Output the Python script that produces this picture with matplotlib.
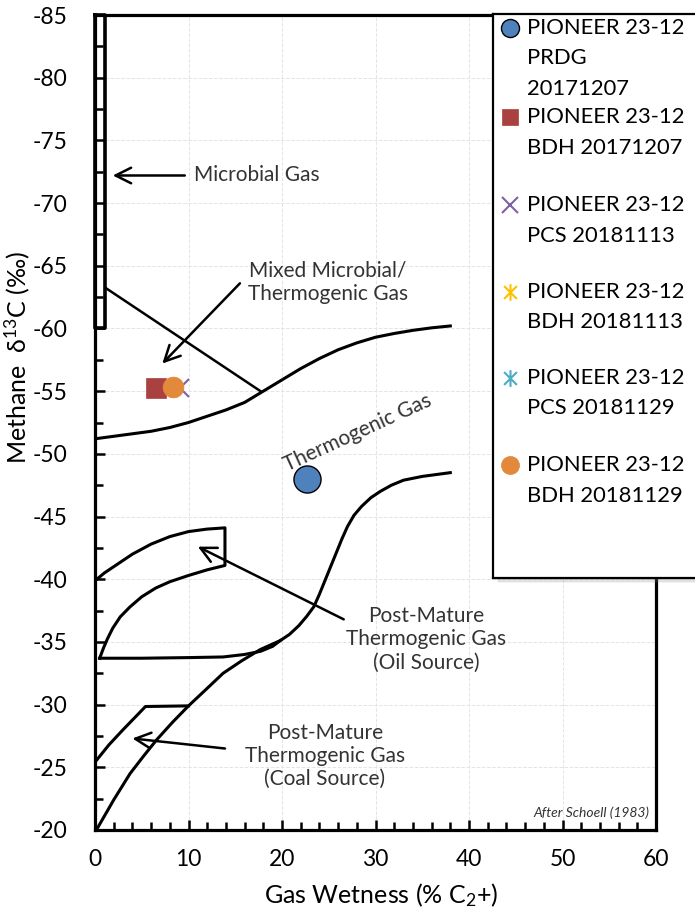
import numpy as np
import matplotlib
matplotlib.use("Agg")
import matplotlib.pyplot as plt
from matplotlib.patches import Rectangle
from matplotlib.path import Path

plt.rcParams['font.family'] = ['Lato', 'DejaVu Sans']
plt.rcParams['mathtext.fontset'] = 'custom'
plt.rcParams['mathtext.rm'] = 'Lato'
plt.rcParams['mathtext.it'] = 'Lato:italic'
plt.rcParams['axes.unicode_minus'] = False

# ---- samples ----
labels = ['PIONEER 23-12\nPRDG\n20171207',
          'PIONEER 23-12\nBDH 20171207',
          'PIONEER 23-12\nPCS 20181113',
          'PIONEER 23-12\nBDH 20181113',
          'PIONEER 23-12\nPCS 20181129',
          'PIONEER 23-12\nBDH 20181129']
wetness = [22.7, 6.5, 9.1, 8.3, 8.3, 8.3]
d13c = [-48.0, -55.25, -55.25, -55.3, -55.3, -55.3]

# ---- Schoell (1983) field boundaries ----
microbial_x = [0, 1.1, 1.1, 0, 0]
microbial_y = [-85, -85, -60, -60, -85]

mixed_x = [1.2, 17.7]
mixed_y = [-63.2, -55.0]

thermo_top_x = [0, 2, 4, 6, 8, 10, 12, 14, 16, 18, 20, 22, 24, 26, 28, 30, 32, 34, 36, 38]
thermo_top_y = [-51.2, -51.4, -51.6, -51.8, -52.1, -52.5, -53.0, -53.5, -54.1, -55.0,
                -55.9, -56.8, -57.6, -58.3, -58.85, -59.3, -59.6, -59.85, -60.05, -60.2]

# coal lower limb + big S curve
s_curve_x = [0.3, 2, 3.75, 5.2, 6.6, 8.3, 10, 12, 13.7, 15.7, 17.7, 19.8, 20.8,
             21.8, 22.6, 23.4, 24.0, 24.6, 25.2, 25.8, 26.4, 27.0, 27.7, 28.5,
             29.5, 30.5, 31.7, 33, 35, 38]
s_curve_y = [-20.2, -22.4, -24.5, -25.9, -27.2, -28.6, -29.9, -31.3, -32.5, -33.5,
             -34.4, -35.1, -35.6, -36.3, -37.0, -37.8, -38.8, -39.9, -41.0, -42.1,
             -43.2, -44.2, -45.1, -45.8, -46.5, -47.0, -47.5, -47.9, -48.2, -48.5]

flat_x = [0.5, 5, 10, 13.7, 16, 17.7, 19, 19.8]
flat_y = [-33.7, -33.7, -33.75, -33.8, -34.0, -34.25, -34.65, -35.1]

oil_x = [0.2, 1, 2, 3, 4, 5, 6, 7, 8, 9, 10, 11, 12, 13, 13.9,
         13.9, 12, 10, 8, 6.5, 5, 3.75, 2.7, 1.9, 1.3, 0.9, 0.5]
oil_y = [-40.0, -40.5, -41.0, -41.5, -42.0, -42.4, -42.8, -43.1, -43.4, -43.6,
         -43.8, -43.9, -44.0, -44.05, -44.1,
         -41.1, -40.75, -40.3, -39.8, -39.3, -38.6, -37.8, -37.0, -36.1, -35.2,
         -34.5, -33.7]

coal_x = [0.2, 1.5, 3, 4.3, 5.4, 10]
coal_y = [-25.6, -26.8, -28.0, -29.0, -29.85, -29.9]

fig = plt.figure(figsize=(6.95, 9.08), dpi=100)
ax = fig.add_axes([95 / 695, 1 - 830 / 908, 561 / 695, 815 / 908])
ax.set_zorder(0)

ax.set_xlim(0, 60)
ax.set_ylim(-20, -85)
ax.set_xticks(np.arange(0, 61, 10))
ax.set_xticks(np.arange(0, 61, 2), minor=True)
ax.set_yticks(np.arange(-85, -19, 5))
ax.set_yticks(np.arange(-85, -19, 2.5), minor=True)
ax.tick_params(which='both', direction='in', width=1.8, labelsize=16.5)
ax.tick_params(which='major', length=7)
ax.tick_params(which='minor', length=6)
ax.tick_params(axis='y', pad=20)
ax.tick_params(axis='x', pad=14)
ax.grid(True, which='major', color='#e4e4e4', ls='--', lw=0.7)
ax.set_axisbelow(True)
for s in ax.spines.values():
    s.set_linewidth(2.3)

ax.set_xlabel('Gas Wetness (% C$_2$+)', fontsize=18)
ax.set_ylabel('Methane  \u03b4$^{13}$C (\u2030)', fontsize=18)
ax.yaxis.set_label_coords(-0.113, 0.58)
ax.xaxis.set_label_coords(0.51, -0.063)

lw = 2.2
ax.plot(microbial_x, microbial_y, color='black', lw=2.6, clip_on=False, zorder=3)
ax.plot(mixed_x, mixed_y, color='black', lw=1.8, zorder=3)
ax.plot(thermo_top_x, thermo_top_y, color='black', lw=lw, zorder=3)
ax.plot(s_curve_x, s_curve_y, color='black', lw=lw, zorder=3)
ax.plot(flat_x, flat_y, color='black', lw=lw, zorder=3)
ax.plot(oil_x, oil_y, color='black', lw=lw, zorder=3)
ax.plot(coal_x, coal_y, color='black', lw=lw, zorder=3)

arrow = dict(arrowstyle='->', color='black', lw=1.8, mutation_scale=28,
             shrinkA=0, shrinkB=0)
ax.annotate('', xy=(1.9, -72.2), xytext=(9.6, -72.2), arrowprops=arrow)
ax.annotate('', xy=(7.2, -57.2), xytext=(15.5, -63.6), arrowprops=arrow)
ax.annotate('', xy=(11.0, -42.6), xytext=(26.6, -36.8), arrowprops=arrow)
ax.annotate('', xy=(4.0, -27.3), xytext=(13.9, -26.5), arrowprops=arrow)

tc = '#333333'
ax.text(10.6, -72.2, 'Microbial Gas', fontsize=15, color=tc, va='center', ha='left')
ax.text(24.9, -63.7, 'Mixed Microbial/\nThermogenic Gas', fontsize=15, color=tc,
        va='center', ha='center')
ax.text(28.1, -51.7, 'Thermogenic Gas', fontsize=15, color=tc, va='center',
        ha='center', rotation=24.5, rotation_mode='anchor')
ax.text(35.4, -35.2, 'Post-Mature\nThermogenic Gas\n(Oil Source)', fontsize=15,
        color=tc, va='center', ha='center')
ax.text(24.6, -25.9, 'Post-Mature\nThermogenic Gas\n(Coal Source)', fontsize=15,
        color=tc, va='center', ha='center')
ax.text(59.3, -21.4, 'After Schoell (1983)', fontsize=10, style='italic', color=tc,
        va='center', ha='right')

star = Path([(-1, -1), (1, 1), (-1, 1), (1, -1), (0, -1.3), (0, 1.3)],
            [Path.MOVETO, Path.LINETO, Path.MOVETO, Path.LINETO, Path.MOVETO, Path.LINETO])
styles = [dict(marker='o', ms=19.5, mfc='#4F81BD', mec='black', mew=1.0),
          dict(marker='s', ms=14.5, mfc='#A8413F', mec='#A8413F', mew=0.5),
          dict(marker='x', ms=13, mfc='none', mec='#7F5FA6', mew=1.5),
          dict(marker=star, ms=13, mfc='none', mec='#FFC000', mew=1.5),
          dict(marker=star, ms=13, mfc='none', mec='#4BACC6', mew=1.5),
          dict(marker='o', ms=15, mfc='#E2893B', mec='#E2893B', mew=0.5)]
leg_ms = [13, 12, 12, 12, 12, 13]

for xv, yv, st in zip(wetness, d13c, styles):
    ax.plot([xv], [yv], ls='none', zorder=5, **st)

# ---- legend box (Excel style, runs off the right edge) ----
lx0, ly0, lx1, ly1 = 493, 14, 740, 578
W, H = 695, 908
for k, a in enumerate([0.10, 0.14, 0.20]):
    off = 5 - k * 1.5
    fig.add_artist(Rectangle(((lx0 + off) / W, 1 - (ly1 + off) / H),
                             (lx1 - lx0) / W, (ly1 - ly0) / H,
                             transform=fig.transFigure, facecolor='gray',
                             edgecolor='none', alpha=a, zorder=0.5))
lax = fig.add_axes([lx0 / W, 1 - ly1 / H, (lx1 - lx0) / W, (ly1 - ly0) / H])
lax.set_zorder(1)
lax.set_xlim(0, lx1 - lx0)
lax.set_ylim(ly1 - ly0, 0)
lax.set_xticks([])
lax.set_yticks([])
for s in lax.spines.values():
    s.set_linewidth(1.6)

entry_y = [14, 103, 191, 278, 364, 451]
for lab, ey, st, ms in zip(labels, entry_y, styles, leg_ms):
    st2 = dict(st)
    st2['ms'] = ms
    lax.plot([17], [ey], ls='none', clip_on=False, **st2)
    for i, line in enumerate(lab.split('\n')):
        lax.text(34, ey + i * 30.5, line, fontsize=15.8, va='center', ha='left',
                 color='black')

fig.savefig('out.png', dpi=100)
